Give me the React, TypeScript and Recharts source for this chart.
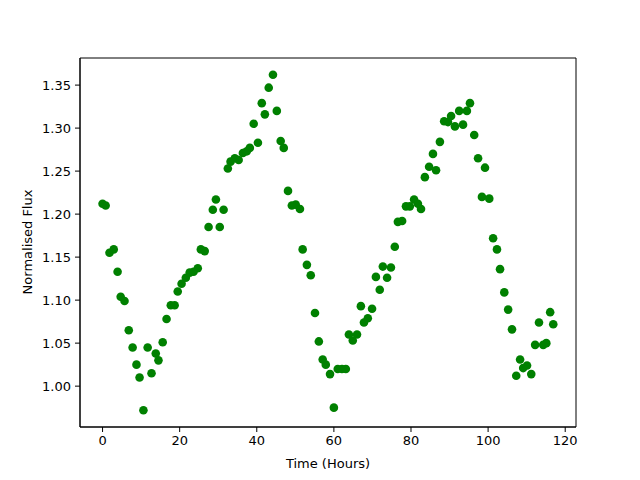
import { ScatterChart, Scatter, XAxis, YAxis, ReferenceArea } from "recharts";

// time since start (hours) and normalised flux
const hours = [
  0, 0.8, 1.8, 2.9, 3.9, 4.7, 5.7, 6.8, 7.8, 8.8, 9.6, 10.6, 11.7, 12.7, 13.8, 14.5,
  15.6, 16.6, 17.7, 18.7, 19.5, 20.5, 21.6, 22.6, 23.6, 24.7, 25.5, 26.5, 27.5, 28.6,
  29.4, 30.4, 31.4, 32.5, 33.2, 34.3, 35.3, 36.4, 37.4, 38.2, 39.2, 40.3, 41.3, 42.1,
  43.1, 44.2, 45.2, 46.2, 47.0, 48.1, 49.1, 50.1, 51.2, 51.9, 53.0, 54.0, 55.1, 56.1,
  57.1, 57.9, 59.0, 60.0, 61.0, 62.1, 63.1, 63.9, 64.9, 66.0, 67.0, 67.8, 68.8, 69.9,
  70.9, 71.9, 72.7, 73.8, 74.8, 75.8, 76.6, 77.7, 78.7, 79.7, 80.8, 81.8, 82.6, 83.6,
  84.7, 85.7, 86.5, 87.5, 88.6, 89.6, 90.4, 91.4, 92.5, 93.5, 94.5, 95.3, 96.4, 97.4,
  98.4, 99.2, 100.3, 101.3, 102.3, 103.1, 104.2, 105.2, 106.2, 107.3, 108.3, 109.1,
  110.1, 111.2, 112.2, 113.2, 114.3, 115.1, 116.1, 116.9,
];

const flux = [
  1.212, 1.21, 1.155, 1.159, 1.133, 1.104, 1.099, 1.065, 1.045, 1.025, 1.01, 0.972,
  1.045, 1.015, 1.038, 1.03, 1.051, 1.078, 1.094, 1.094, 1.11, 1.119, 1.126, 1.132,
  1.133, 1.137, 1.159, 1.157, 1.185, 1.205, 1.217, 1.185, 1.205, 1.253, 1.261, 1.265,
  1.263, 1.271, 1.273, 1.277, 1.305, 1.283, 1.329, 1.316, 1.347, 1.362, 1.32, 1.285,
  1.277, 1.227, 1.21, 1.211, 1.206, 1.159, 1.141, 1.129, 1.085, 1.052, 1.031, 1.025,
  1.014, 0.975, 1.02, 1.02, 1.02, 1.06, 1.053, 1.06, 1.093, 1.074, 1.079, 1.09, 1.127,
  1.112, 1.139, 1.126, 1.138, 1.162, 1.191, 1.192, 1.209, 1.209, 1.217, 1.212, 1.206,
  1.243, 1.255, 1.27, 1.251, 1.284, 1.308, 1.307, 1.314, 1.302, 1.32, 1.304, 1.32,
  1.329, 1.292, 1.265, 1.22, 1.254, 1.218, 1.172, 1.159, 1.136, 1.109, 1.089, 1.066,
  1.012, 1.031, 1.021, 1.024, 1.014, 1.048, 1.074, 1.048, 1.05, 1.086, 1.072,
];

const xTicks = [0, 20, 40, 60, 80, 100, 120];
const yTicks = [1.0, 1.05, 1.1, 1.15, 1.2, 1.25, 1.3, 1.35];

const data = hours.map((h, i) => ({ h, f: flux[i] }));

const font = "DejaVu Sans, sans-serif";
const tickStyle = { fontSize: 13, fill: "#000", fontFamily: font };
const xDomain: [number, number] = [-5.85, 122.8];
const yDomain: [number, number] = [0.9525, 1.3815];

const Dot = (props: any) => (
  <circle cx={props.cx} cy={props.cy} r={4.3} fill="#008000" />
);

export default function App() {
  return (
    <div style={{ position: "absolute", left: 0, top: 0, background: "#fff" }}>
      <ScatterChart
        width={640}
        height={480}
        margin={{ top: 58, right: 64, bottom: 0, left: 0 }}
      >
        <XAxis
          type="number"
          dataKey="h"
          domain={xDomain}
          ticks={xTicks}
          allowDataOverflow
          height={53}
          stroke="#000"
          tick={tickStyle}
          tickSize={5}
          tickMargin={4}
          label={{
            content: () => (
              <text x={328} y={463} textAnchor="middle" dominantBaseline="central"
                fontSize={13} fontFamily={font} fill="#000">
                Time (Hours)
              </text>
            ),
          }}
        />
        <YAxis
          type="number"
          dataKey="f"
          domain={yDomain}
          ticks={yTicks}
          allowDataOverflow
          width={80}
          stroke="#000"
          tick={tickStyle}
          tickSize={5}
          tickMargin={4}
          tickFormatter={(v: number) => v.toFixed(2)}
          label={{
            content: () => (
              <text x={27} y={242} transform="rotate(-90 27 242)" textAnchor="middle"
                dominantBaseline="central" fontSize={13} fontFamily={font} fill="#000">
                Normalised Flux
              </text>
            ),
          }}
        />
        <ReferenceArea
          x1={xDomain[0]}
          x2={xDomain[1]}
          y1={yDomain[0]}
          y2={yDomain[1]}
          fill="none"
          fillOpacity={0}
          stroke="#000"
          strokeWidth={1}
        />
        <Scatter data={data} shape={Dot} isAnimationActive={false} />
      </ScatterChart>
    </div>
  );
}
